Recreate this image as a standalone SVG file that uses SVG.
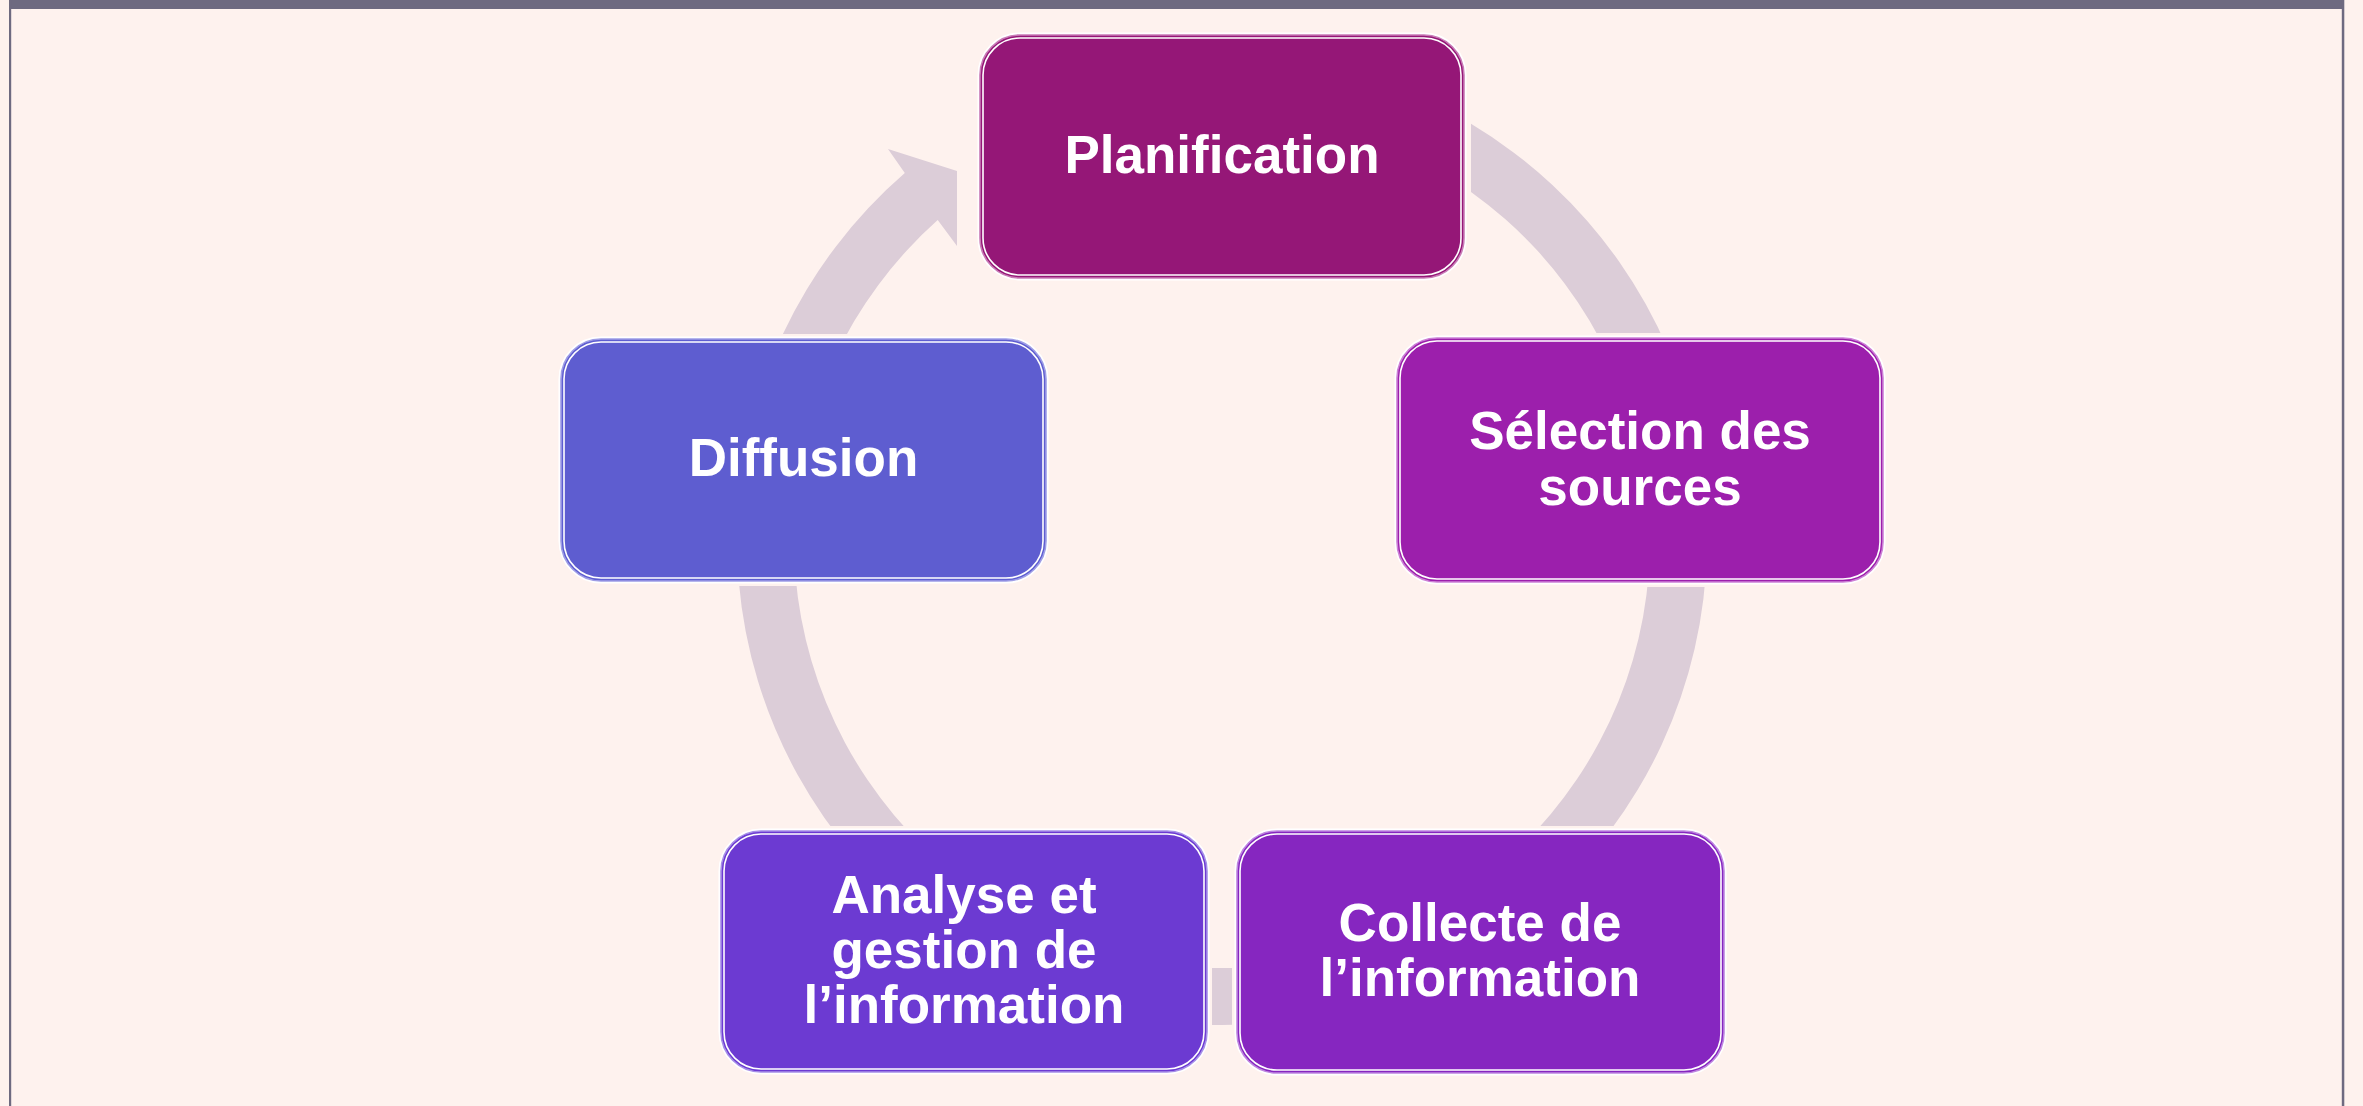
<svg xmlns="http://www.w3.org/2000/svg" width="2363" height="1106" viewBox="0 0 2363 1106">
<style>
  .cut { fill: none; stroke: #fef2ee; stroke-width: 10; }
  .halo { fill: none; stroke: #ffffff; stroke-width: 5; }
  .inner { fill: none; stroke: #ffffff; stroke-width: 1.6; }
  .edge { stroke-width: 1.6; }
  .lbl { font-family: "Liberation Sans", Arial, sans-serif; font-weight: bold; font-size: 53px; fill: #ffffff; text-anchor: middle; }
</style>
<rect x="0" y="0" width="2363" height="1106" fill="#fef2ee"/>
<g id="frame">
  <rect x="9" y="0" width="2335" height="9" fill="#6e6a80"/>
  <rect x="9" y="0" width="2.2" height="1106" fill="#6e6a80"/>
  <rect x="2341.8" y="0" width="2.5" height="1106" fill="#6e6a80"/>
</g>
<g id="connectors">
  <path d="M 1471 123.8 A 485 485 0 1 1 904.8 173.1 L 888 149 L 957 171 L 957 246 L 937.7 220.1 A 428 428 0 1 0 1471 191.9 Z" fill="#dccdd8"/>
</g>
<g id="node-planification">
  <rect class="cut" x="980" y="35" width="484" height="243" rx="40"/>
  <rect class="halo" x="980" y="35" width="484" height="243" rx="40"/>
  <rect class="edge" x="980" y="35" width="484" height="243" rx="40" fill="#951777" stroke="#c97bb6"/>
  <rect class="inner" x="983" y="38" width="478" height="237" rx="37"/>
  <text class="lbl" x="1222" y="173">Planification</text>
</g>
<g id="node-selection">
  <rect class="cut" x="1397" y="338" width="486" height="244" rx="40"/>
  <rect class="halo" x="1397" y="338" width="486" height="244" rx="40"/>
  <rect class="edge" x="1397" y="338" width="486" height="244" rx="40" fill="#9c1fac" stroke="#cd80d6"/>
  <rect class="inner" x="1400" y="341" width="480" height="238" rx="37"/>
  <text class="lbl" x="1640" y="449">Sélection des</text>
  <text class="lbl" x="1640" y="505">sources</text>
</g>
<g id="node-collecte">
  <rect class="cut" x="1237" y="831" width="487" height="242" rx="40"/>
  <rect class="halo" x="1237" y="831" width="487" height="242" rx="40"/>
  <rect class="edge" x="1237" y="831" width="487" height="242" rx="40" fill="#8626c0" stroke="#bf86e0"/>
  <rect class="inner" x="1240" y="834" width="481" height="236" rx="37"/>
  <text class="lbl" x="1480" y="941">Collecte de</text>
  <text class="lbl" x="1480" y="996">l’information</text>
</g>
<g id="node-analyse">
  <rect class="cut" x="721" y="831" width="486" height="241" rx="40"/>
  <rect class="halo" x="721" y="831" width="486" height="241" rx="40"/>
  <rect class="edge" x="721" y="831" width="486" height="241" rx="40" fill="#6c3ad2" stroke="#a68ee8"/>
  <rect class="inner" x="724" y="834" width="480" height="235" rx="37"/>
  <text class="lbl" x="964" y="913">Analyse et</text>
  <text class="lbl" x="964" y="968">gestion de</text>
  <text class="lbl" x="964" y="1023">l’information</text>
</g>
<g id="node-diffusion">
  <rect class="cut" x="561" y="339" width="485" height="242" rx="40"/>
  <rect class="halo" x="561" y="339" width="485" height="242" rx="40"/>
  <rect class="edge" x="561" y="339" width="485" height="242" rx="40" fill="#5e5dd0" stroke="#9e9de6"/>
  <rect class="inner" x="564" y="342" width="479" height="236" rx="37"/>
  <text class="lbl" x="803.5" y="476">Diffusion</text>
</g>
</svg>
